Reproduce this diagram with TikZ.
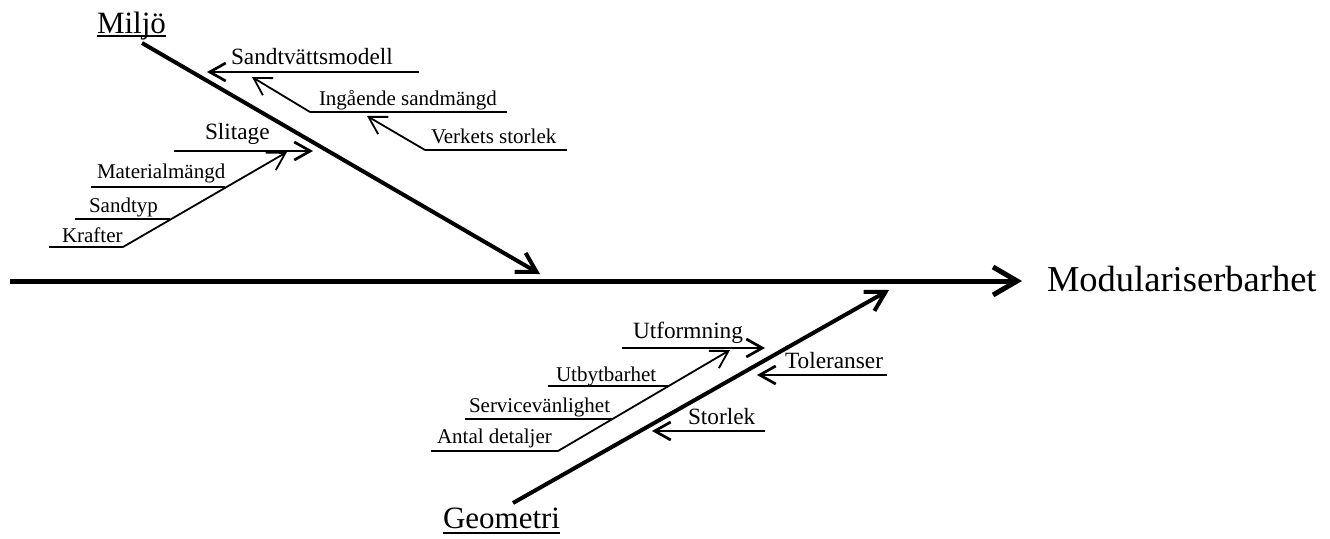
\documentclass[tikz,border=0pt]{standalone}
\usepackage{fontspec}
\setmainfont{Liberation Serif}
\usetikzlibrary{arrows.meta}
\begin{document}
\begin{tikzpicture}[x=1pt,y=-1pt,
  spine/.style={line width=5pt,-{Straight Barb[length=24pt,width=28pt]}},
  bone/.style={line width=4pt,-{Straight Barb[length=19pt,width=22pt]}},
  rib/.style={line width=2.7pt,-{Straight Barb[length=16pt,width=18pt]}},
  twig/.style={line width=1.8pt,-{Straight Barb[length=17pt,width=20pt]}},
  uline/.style={line width=1.1pt},
  catline/.style={line width=1.8pt},
  lbl/.style={anchor=base west,inner sep=0pt,outer sep=0pt},
  lblbig/.style={lbl,font=\fontsize{36.5}{40}\selectfont},
  lblcat/.style={lbl,font=\fontsize{31}{34}\selectfont},
  lblmid/.style={lbl,font=\fontsize{23.3}{26}\selectfont},
  lblsml/.style={lbl,font=\fontsize{21}{24}\selectfont},
]
\useasboundingbox (0,0) rectangle (1330,538);

% coordinates
\coordinate (spineS) at (10,281);
\coordinate (spineE) at (1022,281);
\coordinate (milS) at (142,43);
\coordinate (milE) at (540,274);
\coordinate (geoS) at (513,503);
\coordinate (geoE) at (889,290);

\coordinate (sandS) at (419,72);
\coordinate (sandE) at (207,72);
\coordinate (ingU) at (507,112);
\coordinate (ingS) at (310,112);
\coordinate (ingE) at (252,77);
\coordinate (verU) at (567,150);
\coordinate (verS) at (425,150);
\coordinate (verE) at (367,116);
\coordinate (sliS) at (174,151);
\coordinate (sliE) at (313,151);
\coordinate (matA) at (91,187);
\coordinate (matB) at (225,187);
\coordinate (styA) at (75,219);
\coordinate (styB) at (170,219);
\coordinate (kraA) at (49,247);
\coordinate (kraS) at (123,247);
\coordinate (kraE) at (287,152);

\coordinate (utfS) at (622,348);
\coordinate (utfE) at (765,348);
\coordinate (utbA) at (548,386);
\coordinate (utbB) at (669,386);
\coordinate (serA) at (465,419);
\coordinate (serB) at (612,419);
\coordinate (antA) at (431,451);
\coordinate (antS) at (558,451);
\coordinate (antE) at (730,350);
\coordinate (tolS) at (887,375);
\coordinate (tolE) at (757,375);
\coordinate (stoS) at (765,431);
\coordinate (stoE) at (652,431);

% labels
\node[lblbig] (mod) at (1047,291) {Modulariserbarhet};
\node[lblcat] (mil) at (97,33) {Miljö};
\node[lblcat] (geo) at (443,528) {Geometri};
\node[lblmid] (sand) at (231,64) {Sandtvättsmodell};
\node[lblsml] (ing) at (319,105) {Ingående sandmängd};
\node[lblsml] (ver) at (431,143) {Verkets storlek};
\node[lblmid] (sli) at (205,139) {Slitage};
\node[lblsml] (mat) at (97,178) {Materialmängd};
\node[lblsml] (sty) at (89,212) {Sandtyp};
\node[lblsml] (kra) at (62,242) {Krafter};
\node[lblmid] (utf) at (633,338) {Utformning};
\node[lblmid] (tol) at (785,368) {Toleranser};
\node[lblsml] (utb) at (556,381) {Utbytbarhet};
\node[lblsml] (ser) at (469,412) {Servicevänlighet};
\node[lblsml] (ant) at (437,443) {Antal detaljer};
\node[lblmid] (sto) at (688,424) {Storlek};

% underlines of category labels
\draw[catline] ([yshift=-3pt]mil.base west) -- ([yshift=-3pt]mil.base east);
\draw[catline] ([yshift=-5pt]geo.base west) -- ([yshift=-5pt]geo.base east);

% spine and bones
\draw[spine] (spineS) -- (spineE);
\draw[bone] (milS) -- (milE);
\draw[bone] (geoS) -- (geoE);

% Miljö branches
\draw[rib] (sandS) -- (sandE);
\draw[uline] (ingU) -- (ingS);
\draw[twig] (ingS) -- (ingE);
\draw[uline] (verU) -- (verS);
\draw[twig] (verS) -- (verE);
\draw[rib] (sliS) -- (sliE);
\draw[uline] (matA) -- (matB);
\draw[uline] (styA) -- (styB);
\draw[uline] (kraA) -- (kraS);
\draw[twig] (kraS) -- (kraE);

% Geometri branches
\draw[rib] (utfS) -- (utfE);
\draw[uline] (utbA) -- (utbB);
\draw[uline] (serA) -- (serB);
\draw[uline] (antA) -- (antS);
\draw[twig] (antS) -- (antE);
\draw[rib] (tolS) -- (tolE);
\draw[rib] (stoS) -- (stoE);
\end{tikzpicture}
\end{document}
